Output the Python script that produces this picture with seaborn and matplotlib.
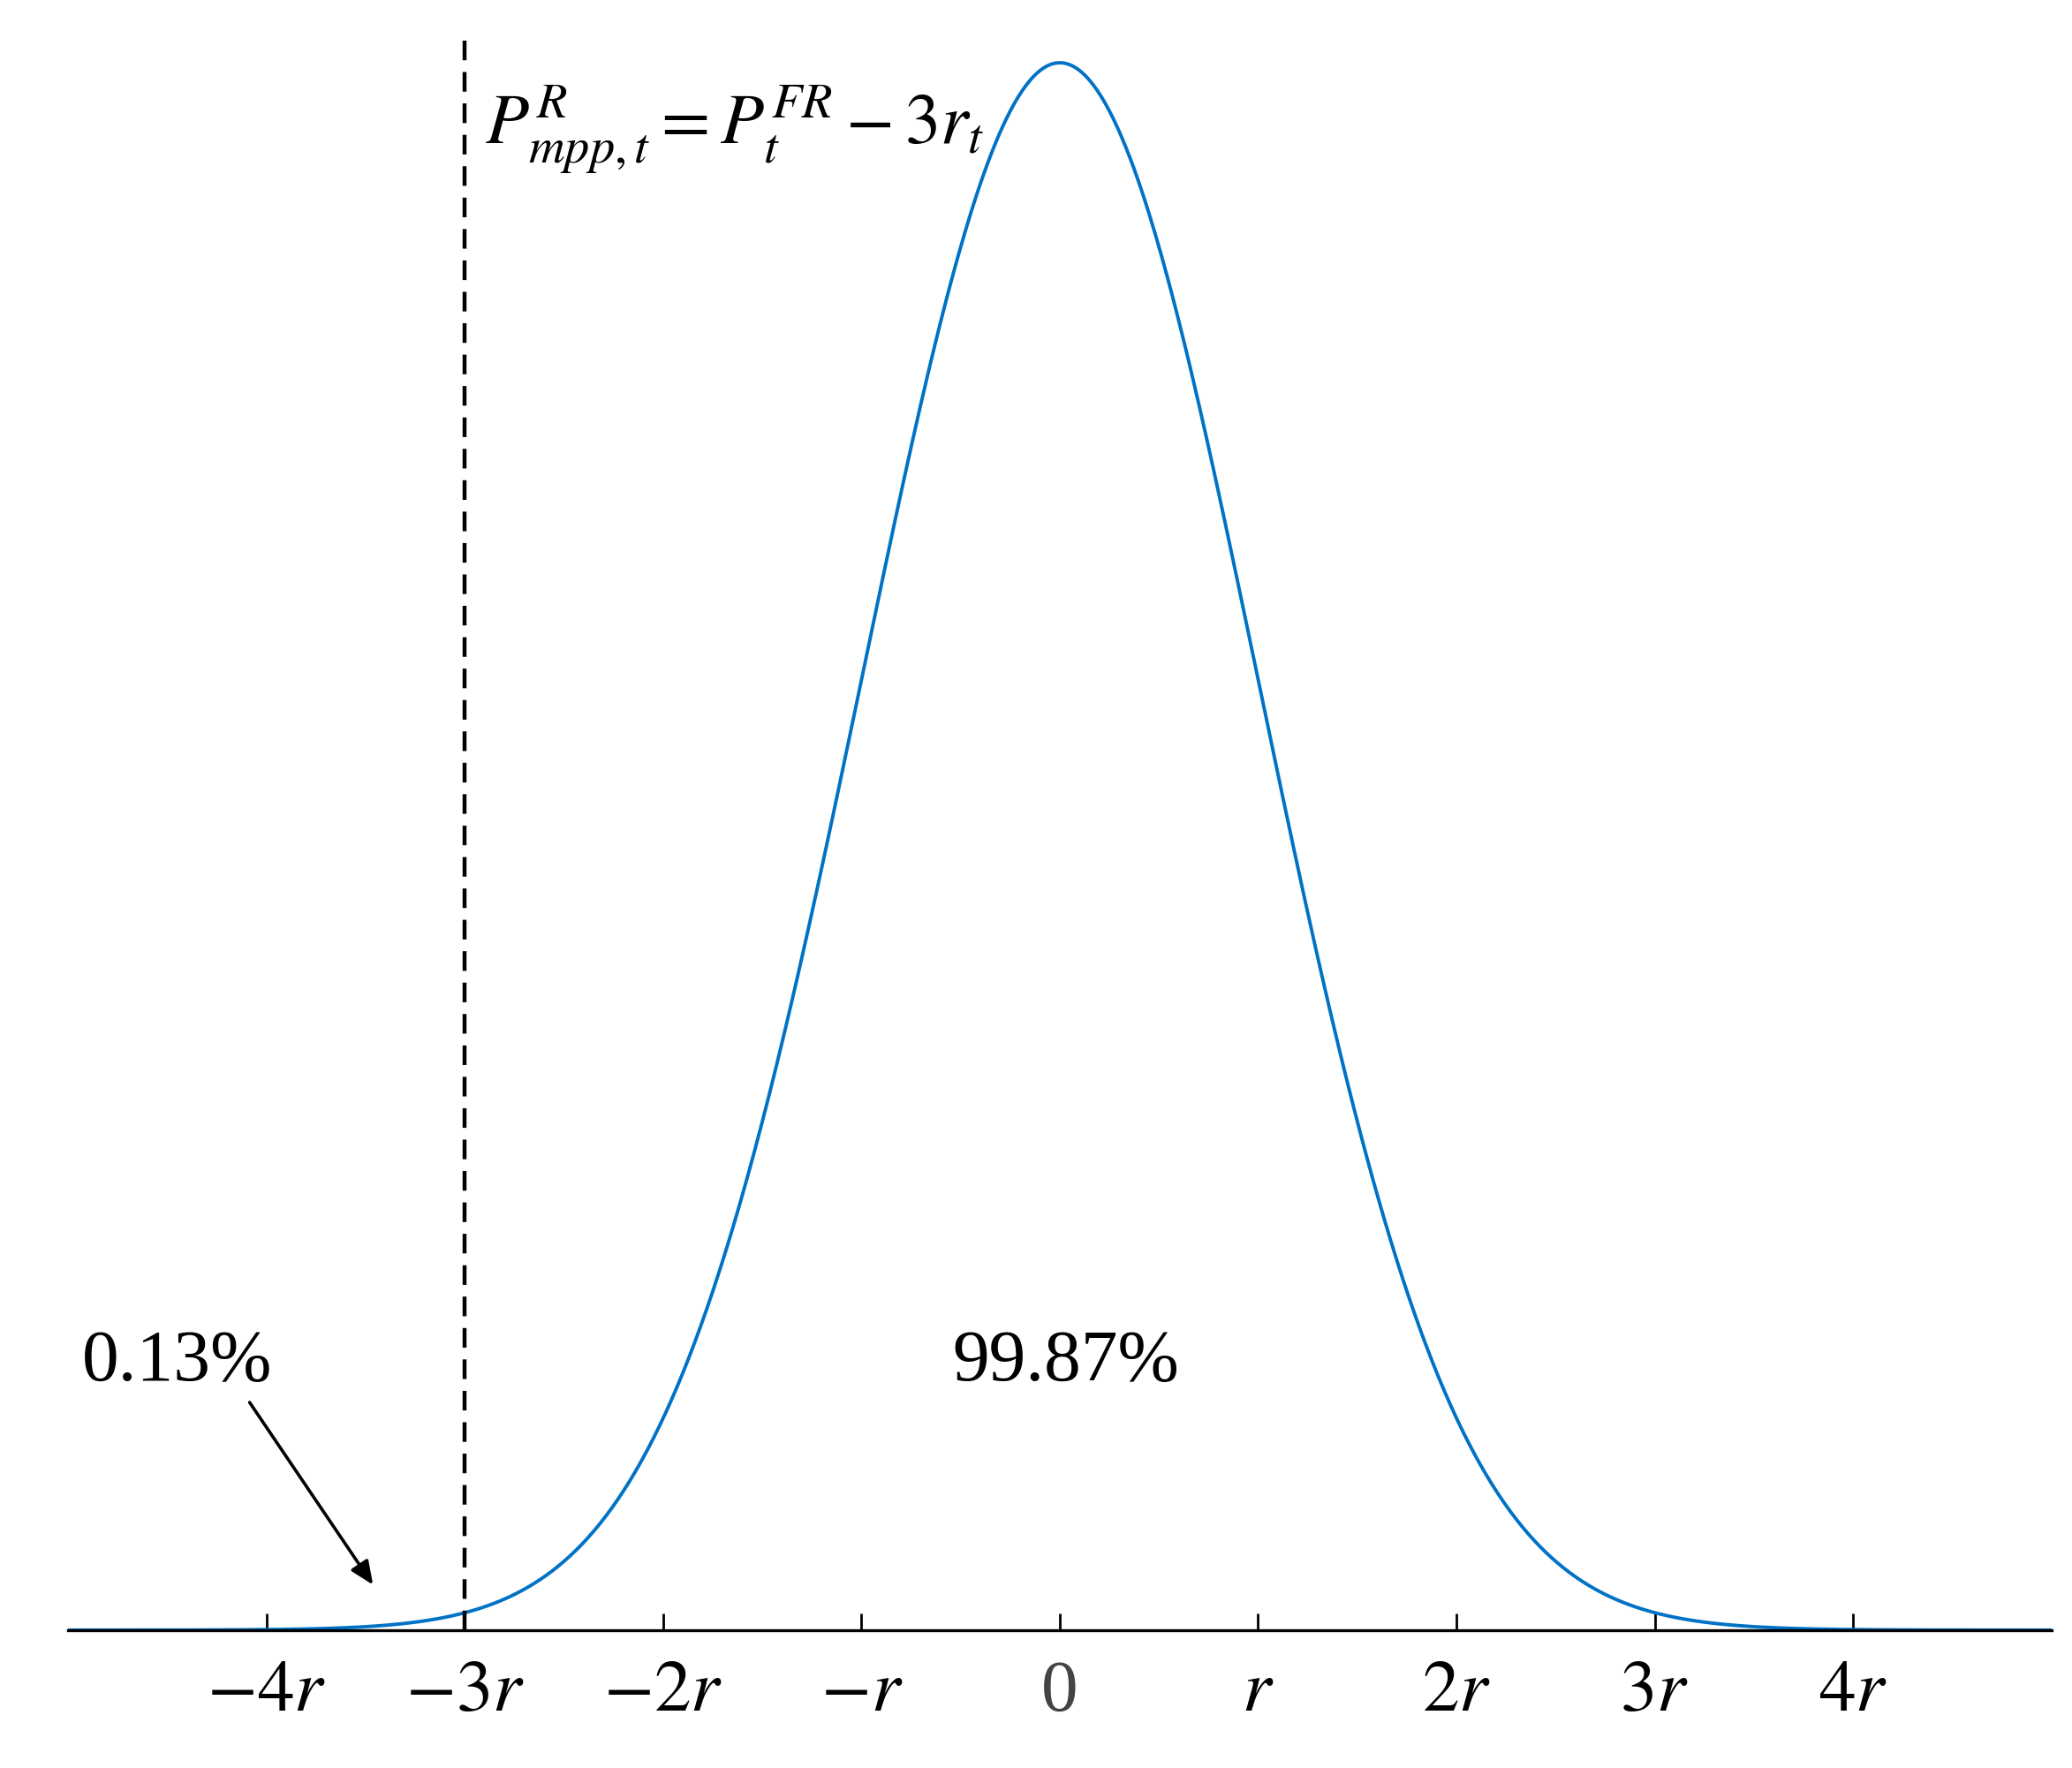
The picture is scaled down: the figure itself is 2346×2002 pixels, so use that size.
import numpy as np
import matplotlib
matplotlib.use("Agg")
import matplotlib.pyplot as plt
import seaborn as sns

# distribution definition (standard normal, in units of r)
mu = 0.0
sigma = 1.0
cut_at = -3.0
tick_pos = [-4, -3, -2, -1, 0, 1, 2, 3, 4]
tick_labels = [r"$-4r$", r"$-3r$", r"$-2r$", r"$-r$", "0", r"$r$", r"$2r$", r"$3r$", r"$4r$"]
left_pct = "0.13%"
right_pct = "99.87%"

sns.set_style("white")
plt.rcParams["font.family"] = ["Liberation Serif", "DejaVu Serif"]
plt.rcParams["mathtext.fontset"] = "stix"
plt.rcParams["text.color"] = "black"
plt.rcParams["xtick.color"] = "black"

x = np.linspace(-5, 5, 1001)
y = np.exp(-0.5 * ((x - mu) / sigma) ** 2) / (sigma * np.sqrt(2 * np.pi))

fig = plt.figure(figsize=(11.73, 10.01), dpi=200)
ax = fig.add_axes([0.033, 0.078, 0.957, 0.90])
sns.lineplot(x=x, y=y, ax=ax, color="#0072C6", linewidth=1.4)

peak = y.max()
ax.set_xlim(-5, 5)
ax.set_ylim(0, peak / 0.985)
ax.axvline(cut_at, ymin=0, ymax=1.0, color="black", linestyle=(0, (5, 3)), linewidth=1.6)

ax.text(-2.9, 0.382, r"$P^{R}_{mpp,t} = P^{FR}_{t} - 3r_t$", fontsize=29, va="center", ha="left")
ax.text(-4.45, 0.068, left_pct, fontsize=30, ha="center", va="center")
ax.text(0.03, 0.068, right_pct, fontsize=30, ha="center", va="center")
ax.annotate("", xy=(-3.45, 0.0105), xytext=(-4.1, 0.059),
            arrowprops=dict(arrowstyle="-|>,head_length=0.8,head_width=0.35", color="black", lw=1.3))

ax.set_xticks(tick_pos)
ax.set_xticklabels(tick_labels, fontsize=30)
for lab in ax.get_xticklabels():
    if lab.get_text() == "0":
        lab.set_color("#444444")
ax.tick_params(axis="x", direction="in", length=7, width=1, pad=12, bottom=True)
ax.set_yticks([])
for s in ["top", "right", "left"]:
    ax.spines[s].set_visible(False)
ax.spines["bottom"].set_color("black")
ax.spines["bottom"].set_linewidth(1.2)

fig.savefig("out.png", dpi=200)
